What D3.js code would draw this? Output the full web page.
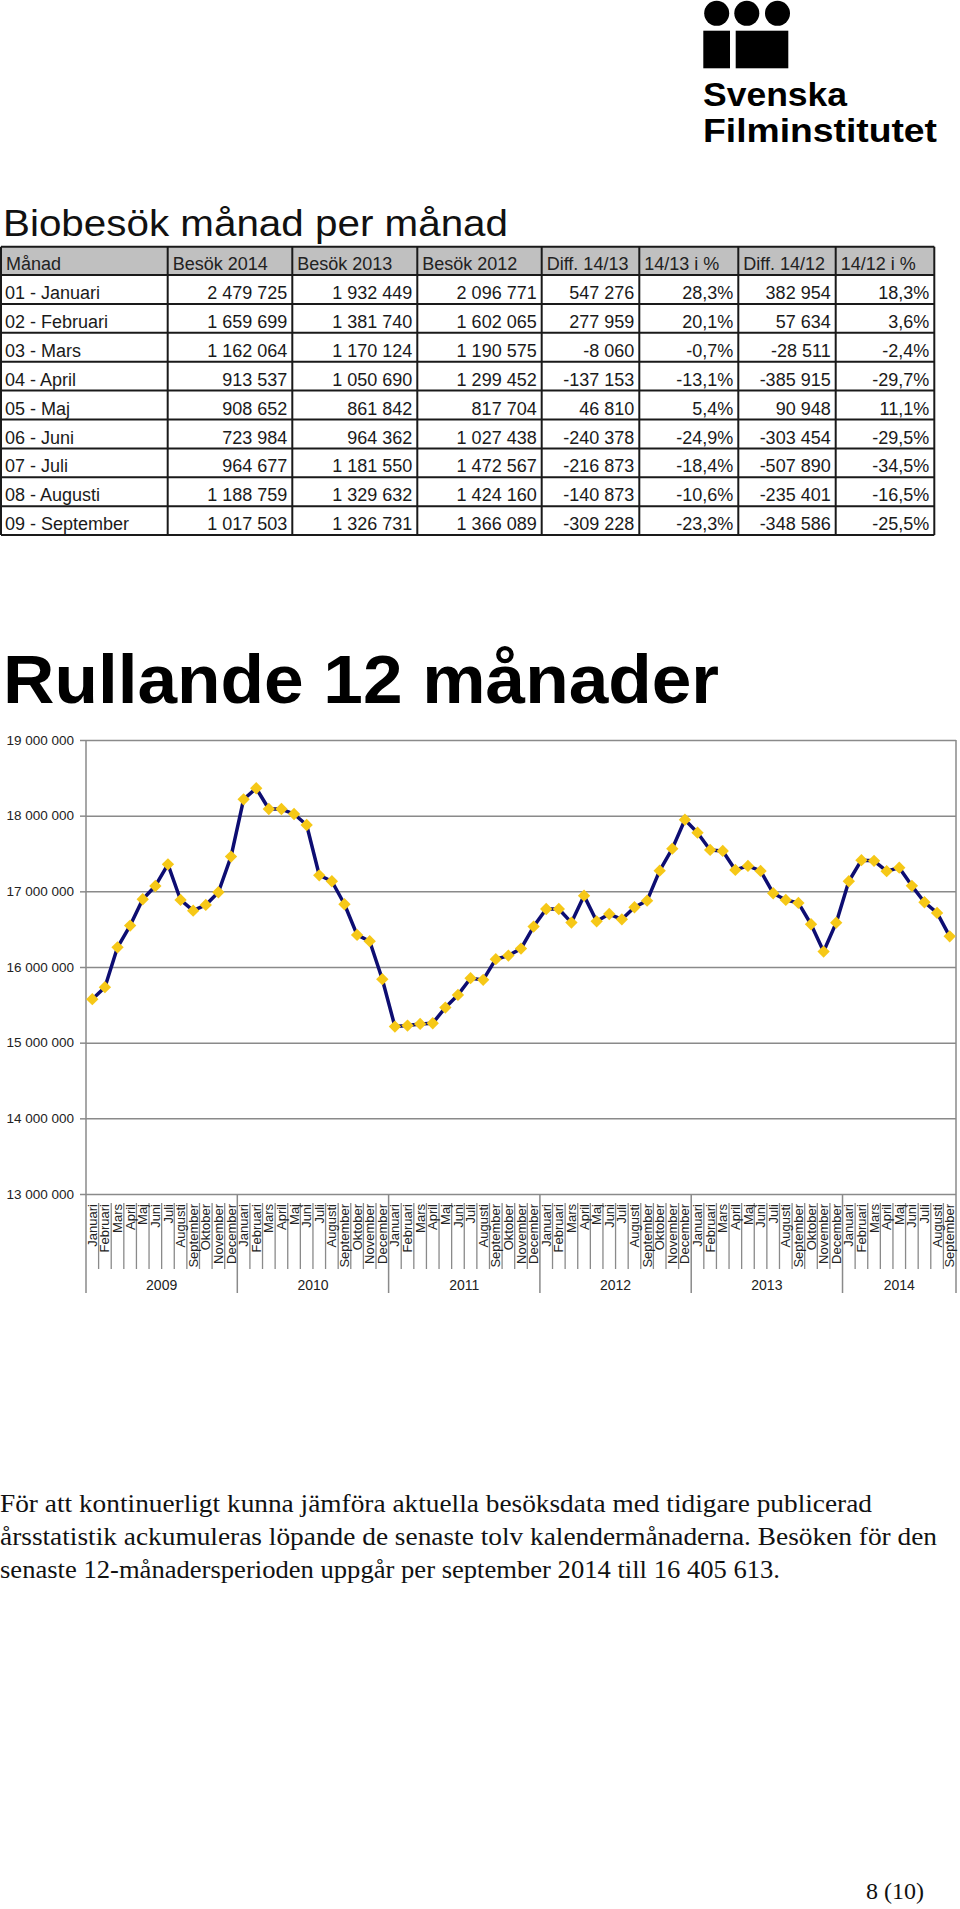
<!DOCTYPE html>
<html><head><meta charset="utf-8">
<script src="https://cdn.jsdelivr.net/npm/d3@7"></script>
<style>body{margin:0;background:#fff} svg{display:block}</style>
</head><body>
<svg id="page" width="960" height="1909"></svg>
<script>
// ---------- DATA ----------
const tableHeaders = ["Månad","Besök 2014","Besök 2013","Besök 2012","Diff. 14/13","14/13 i %","Diff. 14/12","14/12 i %"];
const tableMonths = ["01 - Januari","02 - Februari","03 - Mars","04 - April","05 - Maj","06 - Juni","07 - Juli","08 - Augusti","09 - September"];
const besok2014 = [2479725,1659699,1162064,913537,908652,723984,964677,1188759,1017503];
const besok2013 = [1932449,1381740,1170124,1050690,861842,964362,1181550,1329632,1326731];
const besok2012 = [2096771,1602065,1190575,1299452,817704,1027438,1472567,1424160,1366089];
const diff1413 = [547276,277959,-8060,-137153,46810,-240378,-216873,-140873,-309228];
const pct1413 = [28.3,20.1,-0.7,-13.1,5.4,-24.9,-18.4,-10.6,-23.3];
const diff1412 = [382954,57634,-28511,-385915,90948,-303454,-507890,-235401,-348586];
const pct1412 = [18.3,3.6,-2.4,-29.7,11.1,-29.5,-34.5,-16.5,-25.5];

const monthNames = ["Januari","Februari","Mars","April","Maj","Juni","Juli","Augusti","September","Oktober","November","December"];
const years = ["2009","2010","2011","2012","2013","2014"];
const monthsPerYear = [12,12,12,12,12,9];
const rolling12 = [
  15575000,15733000,16260000,16547000,16895000,17071000,17357000,16886000,16745000,16820000,16988000,17459000,
  18216000,18362000,18088000,18088000,18022000,17877000,17212000,17133000,16829000,16424000,16341000,15839000,
  15213000,15226000,15248000,15257000,15464000,15631000,15852000,15830000,16103000,16151000,16243000,16534000,
  16767000,16767000,16587000,16943000,16604000,16700000,16630000,16790000,16877000,17273000,17564000,17947000,
  17775000,17547000,17534000,17283000,17336000,17270000,16975000,16886000,16847000,16565000,16204000,16586133,
  17133409,17411368,17403308,17266155,17312965,17072587,16855714,16714841,16405613
];
const yTicks = [13000000,14000000,15000000,16000000,17000000,18000000,19000000];

const footerLines = [
  "För att kontinuerligt kunna jämföra aktuella besöksdata med tidigare publicerad",
  "årsstatistik ackumuleras löpande de senaste tolv kalendermånaderna. Besöken för den",
  "senaste 12-månadersperioden uppgår per september 2014 till 16 405 613."
];

// ---------- SETUP ----------
const svg = d3.select("#page");
const SANS = "'Liberation Sans', Arial, Helvetica, sans-serif";
const SERIF = "'Liberation Serif', 'Times New Roman', serif";
const sv = d3.formatLocale({decimal:",", thousands:"\u00a0", grouping:[3], currency:["","kr"], minus:"-"});
const fmtInt = sv.format(",d");
const fmtPct = v => sv.format(".1f")(v) + "%";

// ---------- LOGO ----------
const logo = svg.append("g");
[716.7,746.8,777.5].forEach(cx => logo.append("circle").attr("cx",cx).attr("cy",13.3).attr("r",12.5).attr("fill","#000"));
logo.append("rect").attr("x",703.3).attr("y",30.7).attr("width",26.7).attr("height",37.6).attr("fill","#000");
logo.append("rect").attr("x",735.7).attr("y",30.7).attr("width",52.6).attr("height",37.6).attr("fill","#000");
logo.append("text").attr("x",703).attr("y",106).attr("font-family",SANS).attr("font-weight","bold")
  .attr("font-size",34).attr("textLength",144).attr("lengthAdjust","spacingAndGlyphs").text("Svenska");
logo.append("text").attr("x",703).attr("y",141.7).attr("font-family",SANS).attr("font-weight","bold")
  .attr("font-size",34).attr("textLength",234).attr("lengthAdjust","spacingAndGlyphs").text("Filminstitutet");

// ---------- TABLE ----------
svg.append("text").attr("x",3).attr("y",235.5).attr("font-family",SANS).attr("font-size",37)
  .attr("textLength",505).attr("lengthAdjust","spacingAndGlyphs").attr("fill","#111").text("Biobesök månad per månad");

const colEdges = [1,167.7,292.3,417.3,541.7,639.3,738.3,835.7,934.3];
const tTop = 246.7, hdrBottom = 275, rowH = 28.9;
const rowY = d3.scaleLinear().domain([0, tableMonths.length]).range([hdrBottom, hdrBottom + rowH*tableMonths.length]);
const tbl = svg.append("g").attr("font-family",SANS).attr("font-size",18);
tbl.append("rect").attr("x",colEdges[0]).attr("y",tTop).attr("width",colEdges[8]-colEdges[0]).attr("height",hdrBottom-tTop).attr("fill","#c0c0c0");
tbl.selectAll("text.h").data(tableHeaders).join("text").attr("class","h")
  .attr("x",(d,i)=>colEdges[i]+5).attr("y",tTop+23.5).attr("fill","#222").text(d=>d);
const rows = tableMonths.map((m,i)=>[m, fmtInt(besok2014[i]), fmtInt(besok2013[i]), fmtInt(besok2012[i]),
  fmtInt(diff1413[i]), fmtPct(pct1413[i]), fmtInt(diff1412[i]), fmtPct(pct1412[i])]);
rows.forEach((r,i)=>{
  tbl.selectAll(null).data(r).join("text")
    .attr("x",(d,j)=> j===0 ? colEdges[0]+4 : colEdges[j+1]-5)
    .attr("text-anchor",(d,j)=> j===0 ? "start" : "end")
    .attr("y", rowY(i)+24).attr("fill","#1a1a1a").text(d=>d);
});
const tBottom = rowY(tableMonths.length);
const hl = [tTop, hdrBottom].concat(d3.range(1, tableMonths.length+1).map(i=>rowY(i)));
tbl.selectAll("line.hl").data(hl).join("line").attr("class","hl")
  .attr("x1",colEdges[0]).attr("x2",colEdges[8]).attr("y1",d=>d).attr("y2",d=>d)
  .attr("stroke","#1a1a1a").attr("stroke-width",2);
tbl.selectAll("line.vl").data(colEdges).join("line").attr("class","vl")
  .attr("x1",d=>d).attr("x2",d=>d).attr("y1",tTop).attr("y2",tBottom)
  .attr("stroke","#1a1a1a").attr("stroke-width",2);

// ---------- CHART ----------
svg.append("text").attr("x",3).attr("y",703).attr("font-family",SANS).attr("font-weight","bold").attr("font-size",68)
  .attr("textLength",716).attr("lengthAdjust","spacingAndGlyphs").attr("fill","#000").text("Rullande 12 månader");

const L = 86, R = 956, T = 740, B = 1194;
const cats = d3.range(rolling12.length);
const x = d3.scaleBand().domain(cats).range([L,R]).padding(0);
const y = d3.scaleLinear().domain([13000000,19000000]).range([B,T]);
const ch = svg.append("g");
const gridCol = "#8a8a8a";

// gridlines
ch.append("g").attr("transform",`translate(${L},0)`)
  .call(d3.axisLeft(y).tickValues(yTicks).tickSize(-(R-L)).tickFormat(""))
  .call(g=>g.select(".domain").remove())
  .call(g=>g.selectAll("line").attr("stroke",gridCol).attr("stroke-width",1.5));
// y axis ticks and labels
ch.append("g").attr("transform",`translate(${L},0)`)
  .call(d3.axisLeft(y).tickValues(yTicks).tickSize(6).tickPadding(6).tickFormat(fmtInt))
  .call(g=>g.select(".domain").remove())
  .call(g=>g.selectAll("line").attr("stroke",gridCol).attr("stroke-width",1.5))
  .call(g=>g.selectAll("text").attr("font-family",SANS).attr("font-size",13.5).attr("fill","#222"));

// axis frame lines
const bottomYear = 1293, monthTop = 1203, monthBottom = 1269;
ch.append("line").attr("x1",L).attr("x2",L).attr("y1",T).attr("y2",bottomYear).attr("stroke",gridCol).attr("stroke-width",1.5);
ch.append("line").attr("x1",R).attr("x2",R).attr("y1",T).attr("y2",bottomYear).attr("stroke",gridCol).attr("stroke-width",1.5);

// month labels / separators
const monthIdx = cats.map(i => i % 12);
const yearStarts = d3.cumsum([0].concat(monthsPerYear)).slice(0,-1);
ch.selectAll("line.ms").data(cats.slice(1).filter(i => i % 12 !== 0)).join("line").attr("class","ms")
  .attr("x1",d=>x(d)).attr("x2",d=>x(d)).attr("y1",monthTop).attr("y2",monthBottom)
  .attr("stroke",gridCol).attr("stroke-width",1.3);
ch.selectAll("line.ys").data(yearStarts.slice(1)).join("line").attr("class","ys")
  .attr("x1",d=>x(d)).attr("x2",d=>x(d)).attr("y1",B).attr("y2",bottomYear)
  .attr("stroke",gridCol).attr("stroke-width",1.5);
ch.selectAll("text.mn").data(cats).join("text").attr("class","mn")
  .attr("transform",d=>`translate(${x(d)+x.bandwidth()/2},${monthTop+1}) rotate(-90)`)
  .attr("text-anchor","end").attr("dy","0.35em")
  .attr("font-family",SANS).attr("font-size",13).attr("fill","#222")
  .text(d=>monthNames[monthIdx[d]]);
ch.selectAll("text.yr").data(years).join("text").attr("class","yr")
  .attr("x",(d,i)=>{ const s=yearStarts[i], e=s+monthsPerYear[i]-1; return (x(s)+x(e)+x.bandwidth())/2; })
  .attr("y",1290).attr("text-anchor","middle")
  .attr("font-family",SANS).attr("font-size",14).attr("fill","#222").text(d=>d);

// series line
const cx = i => x(i) + x.bandwidth()/2;
ch.append("path").datum(rolling12)
  .attr("d", d3.line().x((d,i)=>cx(i)).y(d=>y(d)))
  .attr("fill","none").attr("stroke","#0d0d72").attr("stroke-width",3.5).attr("stroke-linejoin","round");
ch.selectAll("path.pt").data(rolling12).join("path").attr("class","pt")
  .attr("d", d3.symbol(d3.symbolSquare, 76)())
  .attr("transform",(d,i)=>`translate(${cx(i)},${y(d)}) rotate(45)`)
  .attr("fill","#f6c817");

// ---------- FOOTER ----------
const footW = [872, 937, 780];
svg.selectAll("text.ft").data(footerLines).join("text").attr("class","ft")
  .attr("x",0).attr("y",(d,i)=>1512 + i*33)
  .attr("font-family",SERIF).attr("font-size",26).attr("fill","#111")
  .attr("textLength",(d,i)=>footW[i]).attr("lengthAdjust","spacingAndGlyphs").text(d=>d);
svg.append("text").attr("x",866).attr("y",1899).attr("font-family",SERIF).attr("font-size",24).attr("fill","#111").text("8 (10)");
</script>
</body></html>
